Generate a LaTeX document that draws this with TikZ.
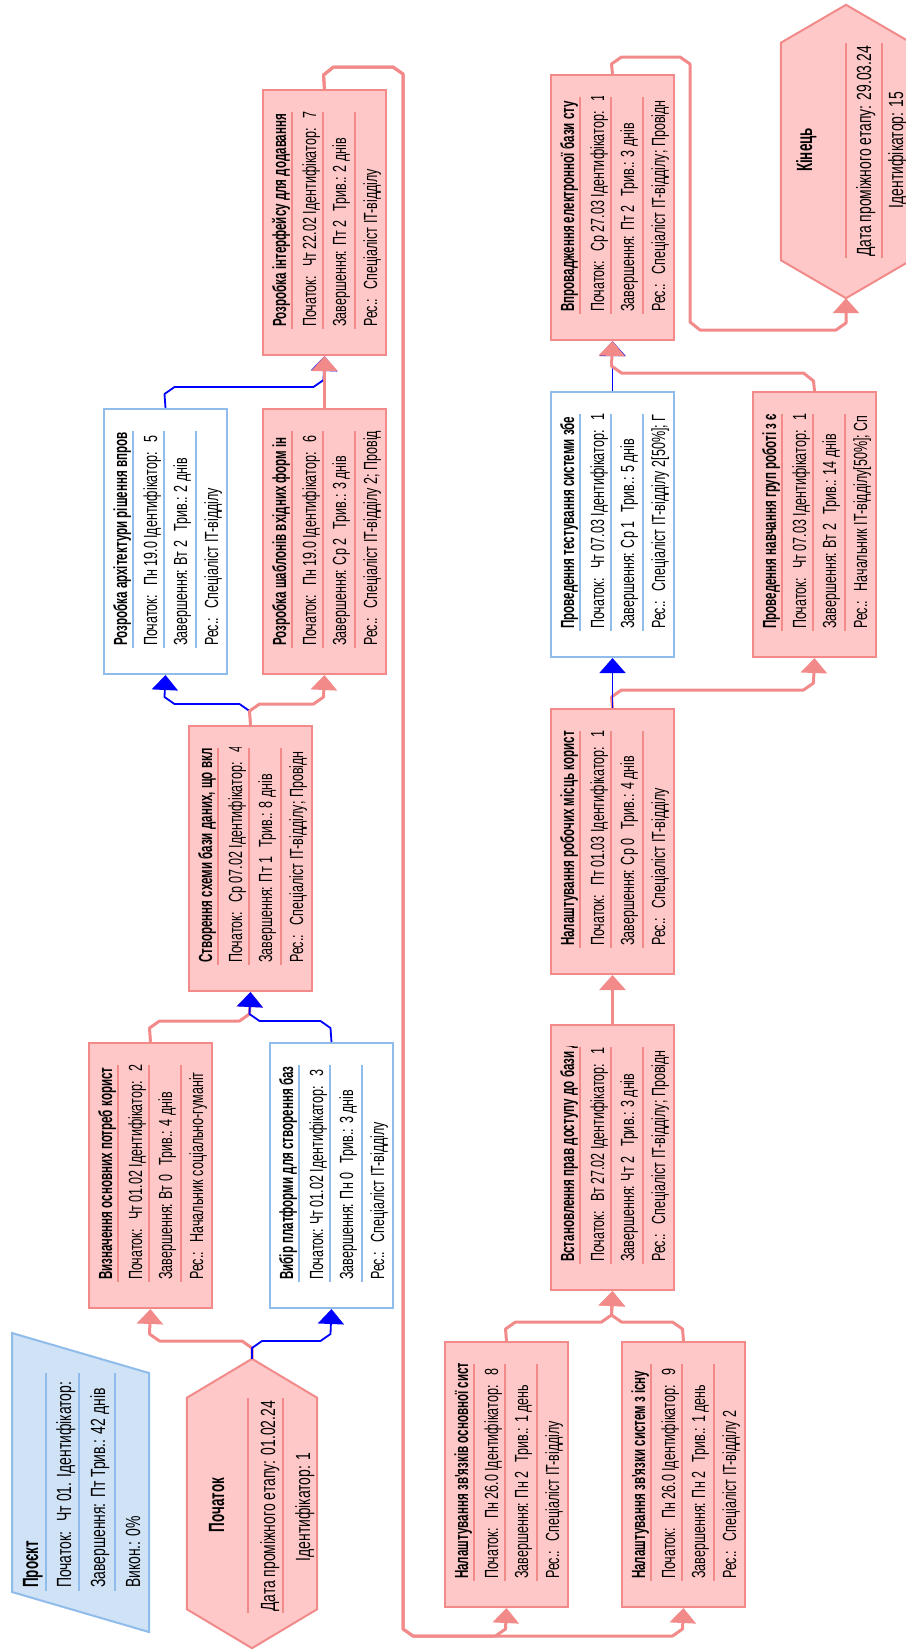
\documentclass[tikz,border=0pt]{standalone}
\usepackage{fontspec}
\setmainfont{Liberation Sans}
\newfontfamily\rfont[FakeStretch=0.66]{Liberation Sans}
\newfontfamily\wfont[FakeStretch=0.68]{Liberation Sans}
\newfontfamily\bfont[FakeStretch=0.61]{Liberation Sans}
\usetikzlibrary{arrows.meta,calc}
\definecolor{pk}{HTML}{F28A8A}
\definecolor{pkfill}{HTML}{FFC8C8}
\definecolor{lb}{HTML}{8FBCEB}
\definecolor{lbfill}{HTML}{CFE2F6}
\definecolor{bl}{HTML}{0000FF}
\tikzset{
 crit/.style={draw=pk, fill=pkfill, line width=2pt},
 noncrit/.style={draw=lb, fill=white, line width=2pt},
 sepcrit/.style={draw=pk, line width=2pt},
 sepnon/.style={draw=lb, line width=2pt},
 projbox/.style={draw=lb, fill=lbfill, line width=2pt},
 txt/.style={rotate=90, anchor=base west, inner sep=0pt, font=\rfont\fontsize{19}{21}\selectfont},
 txtw/.style={rotate=90, anchor=base west, inner sep=0pt, font=\wfont\fontsize{20.5}{23}\selectfont},
 ttl/.style={rotate=90, anchor=base west, inner sep=0pt, font=\bfont\bfseries\fontsize{19}{21}\selectfont},
 ttlbig/.style={rotate=90, anchor=base west, inner sep=0pt, font=\bfont\bfseries\fontsize{22}{24}\selectfont},
 pkc/.style={draw=pk, line width=3pt, line join=round},
 blc/.style={draw=bl, line width=1.8pt, line join=round},
 pka/.style={pkc, -{Triangle[width=26pt,length=15pt]}},
 bla/.style={blc, -{Triangle[width=26pt,length=15pt]}},
}
% #1 name, #2 x, #3 top, #4 box style, #5 sep style, #6 title, #7-#9 rows
\newcommand\taskbox[9]{%
 \node[#4, minimum width=123pt, minimum height=265pt, inner sep=0pt, anchor=north west] (#1) at (#2,#3) {};
 \draw[#5] ({#2+30},{#3+23}) -- ({#2+30},{#3+240});
 \draw[#5] ({#2+61},{#3+23}) -- ({#2+61},{#3+240});
 \draw[#5] ({#2+93},{#3+23}) -- ({#2+93},{#3+240});
 \begin{scope}
  \clip ({#2+2},{#3+22}) rectangle ({#2+121},{#3+252});
  \node[ttl] (#1-t) at ({#2+24},{#3+238}) {#6};
  \node[txt] (#1-a) at ({#2+54},{#3+238}) {#7};
  \node[txt] (#1-b) at ({#2+84},{#3+238}) {#8};
  \node[txt] (#1-c) at ({#2+115},{#3+238}) {#9};
 \end{scope}
}
\begin{document}
\begin{tikzpicture}[x=1pt,y=-1pt]
\useasboundingbox (0,0) rectangle (905,1649);

% ---------- Project summary ----------
\coordinate (proj) at (12,1333);
\draw[projbox] (proj) -- (149,1373) -- (149,1632) -- (12,1592) -- cycle;
\draw[sepnon] (46,1373) -- (46,1591);
\draw[sepnon] (79,1373) -- (79,1591);
\draw[sepnon] (115,1373) -- (115,1591);
\node[ttlbig] (proj-t) at (38,1588) {Проєкт};
\node[txtw] (proj-a) at (71,1588) {Початок:\enspace Чт 01. Ідентифікатор:};
\node[txtw] (proj-b) at (105,1588) {Завершення: Пт Трив.: 42 днів};
\node[txtw] (proj-c) at (140,1588) {Викон.: 0\%};

% ---------- Start milestone ----------
\node[minimum width=130pt, minimum height=289pt, inner sep=0pt] (start) at (252,1503.5) {};
\draw[crit] (start.north) -- ([yshift=-39pt]start.north west) -- ([yshift=39pt]start.south west)
  -- (start.south) -- ([yshift=39pt]start.south east) -- ([yshift=-39pt]start.north east) -- cycle;
\draw[sepcrit] (248,1398) -- (248,1613);
\draw[sepcrit] (283,1398) -- (283,1613);
\node[ttlbig, anchor=base] (start-t) at (224,1505) {Початок};
\node[txtw] (start-a) at (275,1612) {Дата проміжного етапу: 01.02.24};
\node[txtw, anchor=base] (start-b) at (310,1507) {Ідентифікатор: 1};

% ---------- End milestone ----------
\node[minimum width=130pt, minimum height=293pt, inner sep=0pt] (fin) at (846,151.5) {};
\draw[crit] (fin.north) -- ([yshift=-38pt]fin.north west) -- ([yshift=38pt]fin.south west)
  -- (fin.south) -- ([yshift=38pt]fin.south east) -- ([yshift=-38pt]fin.north east) -- cycle;
\draw[sepcrit] (846,43) -- (846,258);
\draw[sepcrit] (882,43) -- (882,258);
\node[ttlbig, anchor=base] (fin-t) at (812,150) {Кінець};
\node[txtw] (fin-a) at (871,257) {Дата проміжного етапу: 29.03.24};
\node[txtw, anchor=base] (fin-b) at (903,150) {Ідентифікатор: 15};

% ---------- Tasks ----------
\taskbox{t2}{88}{1042}{crit}{sepcrit}{Визначення основних потреб корист}
 {Початок:\enspace Чт 01.02 Ідентифікатор:\enspace 2}{Завершення: Вт 0\enspace Трив.: 4 днів}{Рес.:\enspace Начальник соціально-гуманіт}
\taskbox{t3}{269}{1042}{noncrit}{sepnon}{Вибір платформи для створення баз}
 {Початок: Чт 01.02 Ідентифікатор:\enspace 3}{Завершення: Пн 0\enspace Трив.: 3 днів}{Рес.:\enspace Спеціаліст IT-відділу}
\taskbox{t4}{188}{725}{crit}{sepcrit}{Створення схеми бази даних, що вкл}
 {Початок:\enspace Ср 07.02 Ідентифікатор:\enspace 4}{Завершення: Пт 1\enspace Трив.: 8 днів}{Рес.:\enspace Спеціаліст IT-відділу; Провідн}
\taskbox{t5}{103}{408}{noncrit}{sepnon}{Розробка архітектури рішення впров}
 {Початок:\enspace Пн 19.0 Ідентифікатор:\enspace 5}{Завершення: Вт 2\enspace Трив.: 2 днів}{Рес.:\enspace Спеціаліст IT-відділу}
\taskbox{t6}{262}{408}{crit}{sepcrit}{Розробка шаблонів вхідних форм ін}
 {Початок:\enspace Пн 19.0 Ідентифікатор:\enspace 6}{Завершення: Ср 2\enspace Трив.: 3 днів}{Рес.:\enspace Спеціаліст IT-відділу 2; Провід}
\taskbox{t7}{262}{89}{crit}{sepcrit}{Розробка інтерфейсу для додавання}
 {Початок:\enspace Чт 22.02 Ідентифікатор:\enspace 7}{Завершення: Пт 2\enspace Трив.: 2 днів}{Рес.:\enspace Спеціаліст IT-відділу}
\taskbox{t8}{444}{1341}{crit}{sepcrit}{Налаштування зв'язків основної сист}
 {Початок:\enspace Пн 26.0 Ідентифікатор:\enspace 8}{Завершення: Пн 2\enspace Трив.: 1 день}{Рес.:\enspace Спеціаліст IT-відділу}
\taskbox{t9}{621}{1341}{crit}{sepcrit}{Налаштування зв'язки систем з існу}
 {Початок:\enspace Пн 26.0 Ідентифікатор:\enspace 9}{Завершення: Пн 2\enspace Трив.: 1 день}{Рес.:\enspace Спеціаліст IT-відділу 2}
\taskbox{t10}{550}{1024}{crit}{sepcrit}{Встановлення прав доступу до бази д}
 {Початок:\enspace Вт 27.02 Ідентифікатор:\enspace 1}{Завершення: Чт 2\enspace Трив.: 3 днів}{Рес.:\enspace Спеціаліст IT-відділу; Провідн}
\taskbox{t11}{550}{708}{crit}{sepcrit}{Налаштування робочих місць корист}
 {Початок:\enspace Пт 01.03 Ідентифікатор:\enspace 1}{Завершення: Ср 0\enspace Трив.: 4 днів}{Рес.:\enspace Спеціаліст IT-відділу}
\taskbox{t12}{550}{391}{noncrit}{sepnon}{Проведення тестування системи збе}
 {Початок:\enspace Чт 07.03 Ідентифікатор:\enspace 1}{Завершення: Ср 1\enspace Трив.: 5 днів}{Рес.:\enspace Спеціаліст IT-відділу 2[50\%]; Г}
\taskbox{t13}{752}{391}{crit}{sepcrit}{Проведення навчання груп роботі з є}
 {Початок:\enspace Чт 07.03 Ідентифікатор:\enspace 1}{Завершення: Вт 2\enspace Трив.: 14 днів}{Рес.:\enspace Начальник IT-відділу[50\%]; Сп}
\taskbox{t14}{550}{74}{crit}{sepcrit}{Впровадження електронної бази сту}
 {Початок:\enspace Ср 27.03 Ідентифікатор:\enspace 1}{Завершення: Пт 2\enspace Трив.: 3 днів}{Рес.:\enspace Спеціаліст IT-відділу; Провідн}

% ---------- Connectors ----------
\draw[pka] (start.north) -- (252,1348) -- (242,1341) -- (159.5,1341) -- (149.5,1334) -- (t2.south);
\draw[bla] (start.north) -- (252,1348) -- (262,1341) -- (320.5,1341) -- (330.5,1334) -- (t3.south);

\draw[pka] (t2.north) -- (149.5,1028) -- (159.5,1021) -- (239.5,1021) -- (249.5,1014) -- (t4.south);
\draw[bla] (t3.north) -- (330.5,1028) -- (320.5,1021) -- (259.5,1021) -- (249.5,1014) -- (t4.south);

\draw[bla] (t4.north) -- (249.5,711) -- (239.5,704) -- (174.5,704) -- (164.5,697) -- (t5.south);
\draw[pka] (t4.north) -- (249.5,711) -- (259.5,704) -- (313.5,704) -- (323.5,697) -- (t6.south);

\draw[bla] (t5.north) -- (164.5,394) -- (174.5,387) -- (313.5,387) -- (323.5,380) -- (t7.south);
\draw[pka] (t6.north) -- (t7.south);

\draw[pka] (t7.north) -- (323.5,75) -- (333.5,67) -- (393,67) -- (403,74) -- (403,1629) -- (413,1636)
  -- (495.5,1636) -- (505.5,1629) -- (t8.south);
\draw[pka] (t7.north) -- (323.5,75) -- (333.5,67) -- (393,67) -- (403,74) -- (403,1629) -- (413,1636)
  -- (672.5,1636) -- (682.5,1629) -- (t9.south);

\draw[pka] (t8.north) -- (505.5,1329) -- (515.5,1322) -- (601.5,1322) -- (611.5,1315) -- (t10.south);
\draw[pka] (t9.north) -- (682.5,1329) -- (672.5,1322) -- (621.5,1322) -- (611.5,1315) -- (t10.south);

\draw[pka] (t10.north) -- (t11.south);

\draw[pka] (t11.north) -- (611.5,697) -- (621.5,690) -- (803.5,690) -- (813.5,683) -- (t13.south);
\draw[bla] (t11.north) -- (t12.south);

\draw[bla] (t12.north) -- (t14.south);
\draw[pka] (t13.north) -- (813.5,381) -- (803.5,373) -- (621.5,373) -- (611.5,366) -- (t14.south);

\draw[pka] (t14.north) -- (611.5,64) -- (621.5,57) -- (680,57) -- (690,64) -- (690,322) -- (700,330)
  -- (836,330) -- (846,323) -- (fin.south);
\end{tikzpicture}
\end{document}
